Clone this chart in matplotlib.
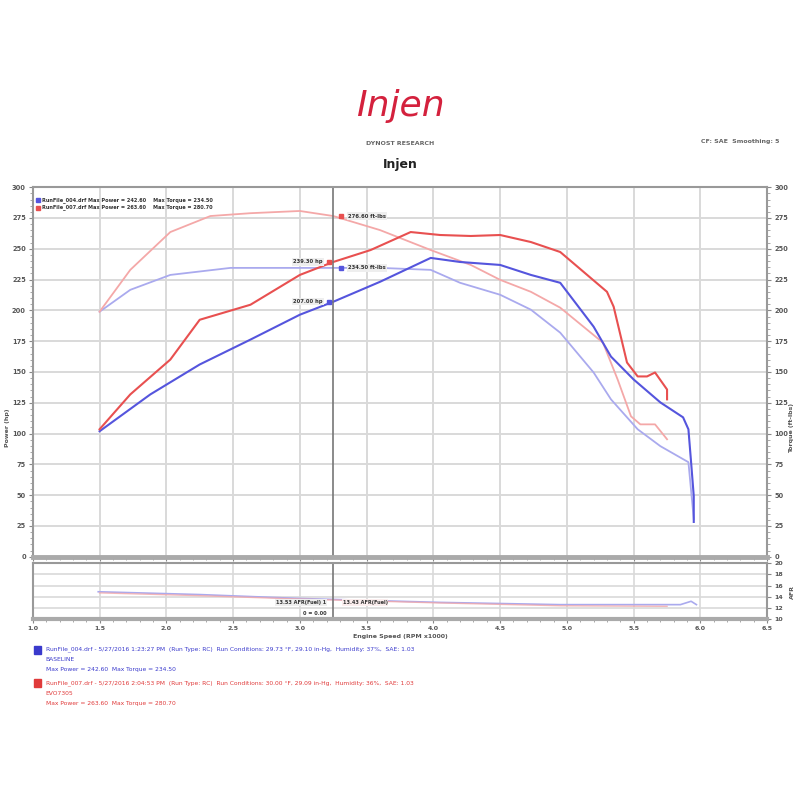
import numpy as np
import matplotlib.pyplot as plt
from matplotlib.ticker import MultipleLocator

# run 004 (blue, baseline) - power / torque vs engine speed (RPM x1000)
rpm_b_pw = [1.50, 1.88, 2.25, 2.63, 3.00, 3.25, 3.60, 3.98, 4.20, 4.50, 4.73, 4.95,
            5.20, 5.33, 5.50, 5.70, 5.87, 5.91, 5.93, 5.95, 5.95]
pw_b = [101.9, 131.8, 156.1, 176.3, 196.5, 207.0, 223.2, 242.6, 239.3, 236.9, 228.8, 222.4,
        186.8, 162.5, 143.9, 125.3, 113.2, 103.5, 76.8, 49.3, 28.3]
rpm_b_tq = [1.50, 1.73, 2.03, 2.48, 2.85, 3.25, 3.60, 3.98, 4.20, 4.50, 4.73, 4.95,
            5.20, 5.33, 5.53, 5.70, 5.91, 5.95]
tq_b = [198.9, 216.7, 228.8, 234.5, 234.5, 234.5, 234.5, 232.9, 222.4, 212.7, 200.6, 181.9,
        149.6, 127.8, 103.5, 89.8, 76.8, 30.7]

# run 007 (red, with intake)
rpm_r_pw = [1.50, 1.73, 2.03, 2.25, 2.63, 3.00, 3.25, 3.53, 3.83, 4.05, 4.28, 4.50, 4.73,
            4.95, 5.30, 5.35, 5.45, 5.53, 5.60, 5.66, 5.75, 5.75]
pw_r = [103.5, 131.8, 160.1, 192.4, 204.6, 228.8, 239.3, 249.0, 263.6, 261.2, 260.4, 261.2,
        255.5, 247.4, 215.1, 203.0, 157.7, 146.4, 146.4, 149.6, 135.8, 127.8]
rpm_r_tq = [1.50, 1.73, 2.03, 2.33, 2.63, 3.00, 3.25, 3.60, 3.98, 4.28, 4.50, 4.73, 4.95,
            5.27, 5.38, 5.48, 5.55, 5.66, 5.75]
tq_r = [198.9, 232.9, 263.6, 276.6, 278.9, 280.7, 276.6, 265.2, 249.0, 236.9, 224.8, 215.1,
        202.2, 173.8, 143.9, 114.0, 107.5, 107.5, 95.4]

# air/fuel ratio, lower panel
rpm_afr_b = [1.49, 2.25, 3.00, 4.05, 4.95, 5.85, 5.93, 5.97]
afr_b = [14.9, 14.4, 13.7, 13.0, 12.6, 12.6, 13.2, 12.6]
rpm_afr_r = [1.50, 2.25, 3.00, 4.05, 4.95, 5.75]
afr_r = [14.7, 14.2, 13.6, 12.9, 12.4, 12.3]

cursor = 3.25
xticks = np.arange(1.0, 6.51, 0.5)

blue, blue_l = '#5555dd', '#aaaaee'
red, red_l = '#e85050', '#f4a8a8'
grid_c = '#d9d9d9'
tick_c = '#555555'

fig = plt.figure(figsize=(8, 8), dpi=100)
fig.patch.set_facecolor('white')

# header
fig.text(0.5, 0.868, 'Injen', color='#d4213d', fontsize=26, ha='center', va='center',
         fontstyle='italic', family='DejaVu Sans')
fig.text(0.5, 0.821, 'DYNOST RESEARCH', color='#666666', fontsize=4.5, ha='center',
         va='center', fontweight='bold')
fig.text(0.5, 0.794, 'Injen', color='#222222', fontsize=9, ha='center', va='center',
         fontweight='bold')
fig.text(0.925, 0.823, 'CF: SAE  Smoothing: 5', color='#666666', fontsize=4.5,
         ha='center', va='center', fontweight='bold')

ax = fig.add_axes([0.041, 0.304, 0.918, 0.462])
ax.plot(rpm_b_tq, tq_b, color=blue_l, lw=1.3)
ax.plot(rpm_r_tq, tq_r, color=red_l, lw=1.3)
ax.plot(rpm_b_pw, pw_b, color=blue, lw=1.5)
ax.plot(rpm_r_pw, pw_r, color=red, lw=1.5)
ax.axvline(cursor, color='#777777', lw=1.2)

ax.set_xlim(1.0, 6.5)
ax.set_ylim(0, 300)
ax.set_xticks(xticks)
ax.yaxis.set_major_locator(MultipleLocator(25))
ax.yaxis.set_minor_locator(MultipleLocator(5))
ax.xaxis.set_minor_locator(MultipleLocator(0.1))
ax.grid(True, color=grid_c, lw=1.4)
ax.set_axisbelow(True)
ax.tick_params(labelbottom=False, labelright=True, right=True, labelsize=4.8,
               labelcolor=tick_c, color='#888888', length=3, pad=2)
ax.tick_params(which='minor', right=True, color='#999999', length=2)
ax.yaxis.set_major_formatter(plt.FuncFormatter(lambda v, p: f'{v:.0f}'))
for lab in ax.get_yticklabels() + ax.yaxis.get_ticklabels(which='major'):
    lab.set_fontweight('bold')
for s in ax.spines.values():
    s.set_color('#999999')
    s.set_linewidth(1.5)
ax.spines['bottom'].set_linewidth(3.5)
ax.spines['bottom'].set_color('#aaaaaa')
fig.text(0.01, 0.465, 'Power (hp)', rotation=90, fontsize=4.5, color=tick_c,
         fontweight='bold', ha='center', va='center')
fig.text(0.99, 0.465, 'Torque (ft-lbs)', rotation=90, fontsize=4.5, color=tick_c,
         fontweight='bold', ha='center', va='center')

# cursor values
vals = [(rpm_r_pw, pw_r, red, ' hp', 'left'), (rpm_b_pw, pw_b, blue, ' hp', 'left'),
        (rpm_r_tq, tq_r, red, ' ft-lbs', 'right'), (rpm_b_tq, tq_b, blue, ' ft-lbs', 'right')]
for xs, ys, c, unit, side in vals:
    v = np.interp(cursor, xs, ys)
    ax.plot(cursor - 0.03 if side == 'left' else cursor + 0.06, v, 's', color=c, ms=3)
    if side == 'left':
        ax.text(cursor - 0.08, v, f'{v:.2f}{unit}', fontsize=3.8, color='#333333',
                ha='right', va='center', fontweight='bold',
                bbox=dict(facecolor='#eeeeee', edgecolor='none', pad=0.8))
    else:
        ax.text(cursor + 0.11, v, f'{v:.2f}{unit}', fontsize=3.8, color='#333333',
                ha='left', va='center', fontweight='bold',
                bbox=dict(facecolor='#eeeeee', edgecolor='none', pad=0.8))

# legend block at top left
leg = [(blue, 'RunFile_004.drf', max(pw_b), max(tq_b)),
       (red, 'RunFile_007.drf', max(pw_r), max(tq_r))]
for i, (c, name, mp, mt) in enumerate(leg):
    y = 0.965 - i * 0.02
    ax.plot(1.04, y * 300, 's', color=c, ms=3)
    ax.text(1.07, y * 300, f'{name} Max Power = {mp:.2f}    Max Torque = {mt:.2f}',
            fontsize=3.6, color='#333333', va='center', fontweight='bold')

# lower AFR panel
ax2 = fig.add_axes([0.041, 0.226, 0.918, 0.07])
ax2.plot(rpm_afr_b, afr_b, color=blue_l, lw=1.2)
ax2.plot(rpm_afr_r, afr_r, color=red_l, lw=1.0, alpha=0.8)
ax2.axvline(cursor, color='#777777', lw=1.2)
ax2.set_xlim(1.0, 6.5)
ax2.set_ylim(10, 20)
ax2.set_xticks(xticks)
ax2.set_xticklabels([f'{t:.1f}' for t in xticks])
ax2.yaxis.set_major_locator(MultipleLocator(2))
ax2.xaxis.set_minor_locator(MultipleLocator(0.1))
ax2.grid(True, color=grid_c, lw=1.2)
ax2.set_axisbelow(True)
ax2.tick_params(labelleft=False, left=False, labelright=True, right=True, labelsize=4.5,
                labelcolor=tick_c, color='#888888', length=3, pad=2)
ax2.tick_params(which='minor', color='#999999', length=2)
for s in ax2.spines.values():
    s.set_color('#999999')
    s.set_linewidth(1.5)
ax2.spines['bottom'].set_linewidth(3)
ax2.spines['bottom'].set_color('#aaaaaa')
for lab in ax2.get_xticklabels() + ax2.get_yticklabels():
    lab.set_fontweight('bold')
ax2.set_xlabel('Engine Speed (RPM x1000)', fontsize=4.5, color=tick_c, fontweight='bold',
               labelpad=2)
fig.text(0.99, 0.26, 'AFR', rotation=90, fontsize=4.5, color=tick_c, fontweight='bold',
         ha='center', va='center')
vb = np.interp(cursor, rpm_afr_b, afr_b)
vr = np.interp(cursor, rpm_afr_r, afr_r)
ax2.text(cursor - 0.05, 13.0, f'{vb:.2f} AFR(Fuel) 1', fontsize=3.6, color='#333333',
         ha='right', va='center', fontweight='bold',
         bbox=dict(facecolor='#eeeeee', edgecolor='none', pad=0.6))
ax2.text(cursor - 0.05, 11.0, '0 = 0.00', fontsize=3.6, color='#333333',
         ha='right', va='center', fontweight='bold')
ax2.text(cursor + 0.07, 13.0, f'{vr:.2f} AFR(Fuel)', fontsize=3.6, color='#333333',
         ha='left', va='center', fontweight='bold',
         bbox=dict(facecolor='#fbeeee', edgecolor='none', pad=0.6))

# run notes at the bottom
notes = [
    ('#3a3acc', 0.188, ['RunFile_004.drf - 5/27/2016 1:23:27 PM  (Run Type: RC)  Run Conditions: 29.73 °F, 29.10 in-Hg,  Humidity: 37%,  SAE: 1.03',
                        'BASELINE',
                        f'Max Power = {max(pw_b):.2f}  Max Torque = {max(tq_b):.2f}']),
    ('#e03a3a', 0.146, ['RunFile_007.drf - 5/27/2016 2:04:53 PM  (Run Type: RC)  Run Conditions: 30.00 °F, 29.09 in-Hg,  Humidity: 36%,  SAE: 1.03',
                        'EVO7305',
                        f'Max Power = {max(pw_r):.2f}  Max Torque = {max(tq_r):.2f}']),
]
for c, y0, lines in notes:
    fig.patches.append(plt.Rectangle((0.042, y0 - 0.005), 0.009, 0.01, color=c,
                                     transform=fig.transFigure, figure=fig))
    for j, t in enumerate(lines):
        fig.text(0.057, y0 - j * 0.0125, t, fontsize=4.3, color=c, va='center')

fig.savefig('out.png', dpi=100)
